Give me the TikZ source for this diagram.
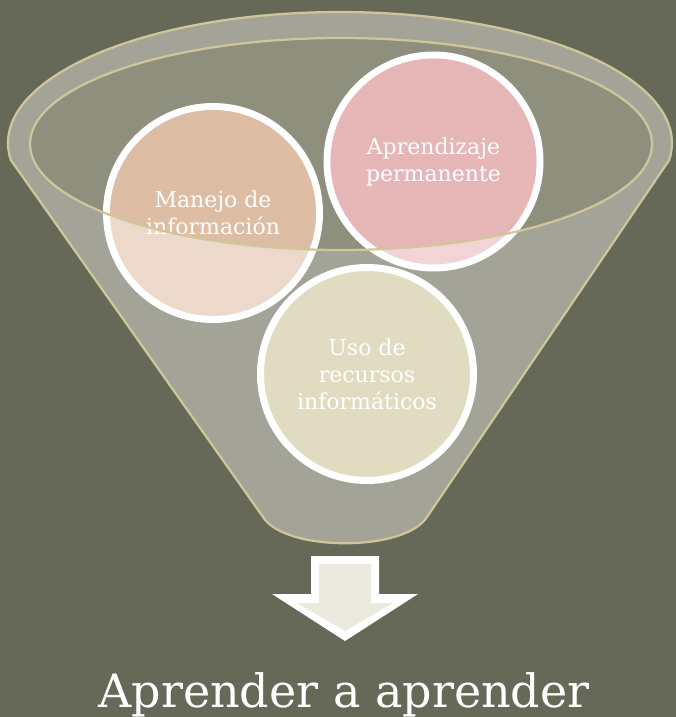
\documentclass[tikz,border=0pt]{standalone}
\usepackage{fontspec}
\setmainfont{DejaVu Serif}
\definecolor{bg}{HTML}{666858}
\definecolor{body}{HTML}{A3A497}
\definecolor{inner}{HTML}{8F8F7D}
\definecolor{rim}{HTML}{CFC79A}
\definecolor{peachhi}{HTML}{DDBDA4}
\definecolor{peachlo}{HTML}{ECD9CC}
\definecolor{pinkhi}{HTML}{E7B6B7}
\definecolor{pinklo}{HTML}{F2D4D6}
\definecolor{sand}{HTML}{E1DCC1}
\definecolor{cream}{HTML}{ECE9DF}
\tikzset{
  ball/.style={circle, draw=white, line width=7pt, minimum size=213pt, inner sep=0pt},
  balltext/.style={text=white, align=center, font=\fontsize{22}{27}\selectfont},
}
\begin{document}
\begin{tikzpicture}[x=1pt,y=-1pt]
\useasboundingbox (0,0) rectangle (676,717);
\fill[bg] (0,0) rectangle (676,717);
% funnel body
\filldraw[fill=body, draw=rim, line width=2.2pt, line join=round]
  (340,143) ++(172.5:332 and 131) arc[start angle=172.5, end angle=367.5, x radius=332, y radius=131]
  -- (427,517) .. controls (405,552) and (285,552) .. (263,517) -- cycle;
% inner ellipse fill
\fill[inner] (341,144) ellipse[x radius=311, y radius=106];
% circles
\node[ball, fill=peachlo] (manejo) at (213,213) {};
\node[ball, fill=pinklo] (aprend) at (433.5,161.5) {};
\node[ball, fill=sand] (uso) at (367,374) {};
\begin{scope}
  \clip (341,144) ellipse[x radius=311, y radius=106];
  \fill[peachhi] (manejo.center) circle[radius=103];
  \fill[pinkhi] (aprend.center) circle[radius=103];
\end{scope}
% texts
\node[balltext] (tm) at (manejo.center) {Manejo de\\información};
\node[balltext] (ta) at (aprend.center) {Aprendizaje\\permanente};
\node[balltext] (tu) at (uso.center) {Uso de\\recursos\\informáticos};
% inner ellipse outline
\draw[rim, line width=2.2pt] (341,144) ellipse[x radius=311, y radius=106];
% arrow
\fill[white] (311,556) -- (379,556) -- (379,594) -- (418,594) -- (345,641) -- (272,594) -- (311,594) -- cycle;
\fill[cream] (319,564) -- (371,564) -- (371,603) -- (393,603) -- (345,631) -- (297,603) -- (319,603) -- cycle;
% title
\node[text=white, anchor=base, font=\fontsize{46}{52}\selectfont, inner sep=0pt] (title) at (344,707) {Aprender a aprender};
\end{tikzpicture}
\end{document}
